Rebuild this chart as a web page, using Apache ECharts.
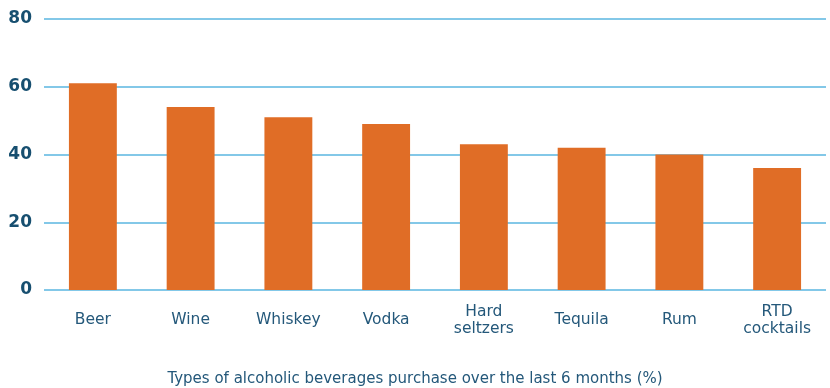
<!DOCTYPE html>
<html>
<head>
<meta charset="utf-8">
<style>
  html, body { margin: 0; padding: 0; background: #ffffff; }
  #chart { width: 830px; height: 388px; }
</style>
<script src="https://cdn.jsdelivr.net/npm/echarts@6/dist/echarts.min.js"></script>
</head>
<body>
<div id="chart"></div>
<script>
// Share of respondents purchasing each beverage type (%)
const categories = ['Beer', 'Wine', 'Whiskey', 'Vodka', 'Hard\nseltzers', 'Tequila', 'Rum', 'RTD\ncocktails'];
const purchaseShare = [61, 54, 51, 49, 43, 42, 40, 36];
const yTicks = [0, 20, 40, 60, 80];
const caption = 'Types of alcoholic beverages purchase over the last 6 months (%)';

const textFont = '"DejaVu Sans", "Open Sans", sans-serif';

const chart = echarts.init(document.getElementById('chart'), null, { renderer: 'canvas' });

chart.setOption({
  animation: false,
  backgroundColor: '#ffffff',
  title: {
    text: caption,
    left: 'center',
    top: 367,
    textStyle: {
      fontFamily: textFont,
      fontSize: 15,
      fontWeight: 'normal',
      color: '#24587a'
    }
  },
  grid: { left: 44, right: 4, top: 19, bottom: 98, containLabel: false },
  xAxis: {
    type: 'category',
    data: categories,
    axisLine: { show: false },
    axisTick: { show: false },
    axisLabel: {
      margin: 30,
      verticalAlign: 'middle',
      lineHeight: 17,
      fontFamily: textFont,
      fontSize: 15.5,
      color: '#24587a'
    }
  },
  yAxis: {
    type: 'value',
    min: yTicks[0],
    max: yTicks[yTicks.length - 1],
    interval: 20,
    axisLine: { show: false },
    axisTick: { show: false },
    splitLine: { lineStyle: { color: '#5ab6e0', width: 1.5 } },
    axisLabel: {
      margin: 12,
      fontFamily: textFont,
      fontSize: 17,
      fontWeight: 'bold',
      color: '#174f70'
    }
  },
  series: [{
    type: 'bar',
    data: purchaseShare,
    barWidth: '49%',
    itemStyle: { color: '#e06d26' }
  }]
});
</script>
</body>
</html>
